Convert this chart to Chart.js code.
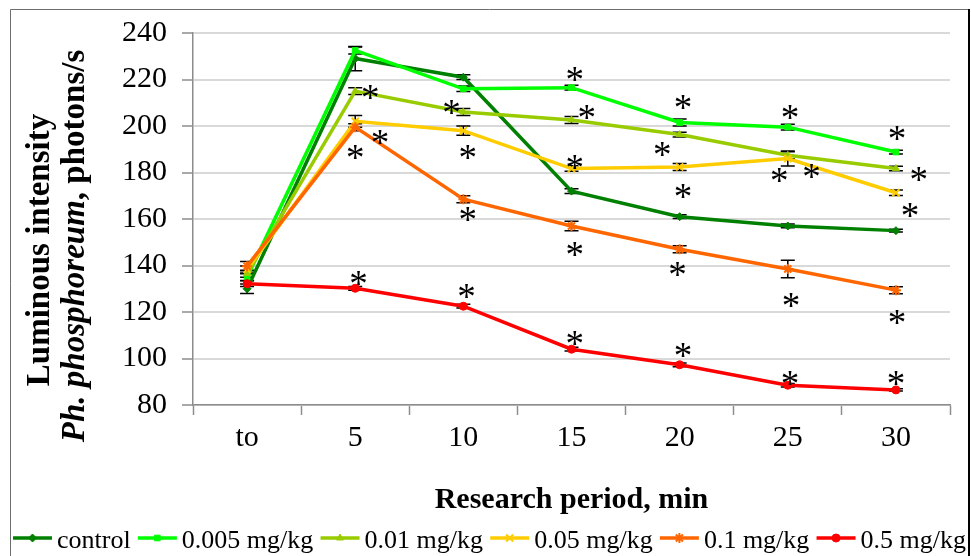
<!DOCTYPE html>
<html><head><meta charset="utf-8">
<script src="https://cdn.jsdelivr.net/npm/chart.js@4.4.1/dist/chart.umd.min.js"></script>
<style>html,body{margin:0;padding:0;background:#fff}#wrap{width:971px;height:556px;position:relative}</style>
</head><body><div id="wrap"><canvas id="c" width="971" height="556"></canvas></div>
<script>
// ---- data ----
const categories = ['to', '5', '10', '15', '20', '25', '30'];
const seriesNames = ['control', '0.005 mg/kg', '0.01 mg/kg', '0.05 mg/kg', '0.1 mg/kg', '0.5 mg/kg'];
const control   = [130.0, 229.0, 221.0, 172.0, 161.0, 157.0, 155.0];
const mg0005    = [135.0, 232.5, 216.0, 216.5, 201.5, 199.5, 188.8];
const mg001     = [136.5, 215.0, 206.0, 202.6, 196.3, 187.4, 181.7];
const mg005     = [138.3, 202.0, 198.0, 181.7, 182.4, 186.0, 171.3];
const mg01      = [139.7, 199.5, 168.5, 157.0, 147.0, 138.5, 129.4];
const mg05      = [132.2, 130.2, 122.5, 104.0, 97.3, 88.5, 86.5];
const controlErr = [2.0, 5.2, 1.0, 1.0, 0.8, 0.8, 0.6];
const mg0005Err  = [1.5, 1.5, 1.2, 1.0, 1.5, 1.2, 0.8];
const mg001Err   = [1.5, 1.5, 1.5, 1.5, 1.0, 1.5, 1.0];
const mg005Err   = [1.5, 2.5, 2.0, 1.2, 1.5, 3.2, 1.2];
const mg01Err    = [2.0, 1.5, 1.5, 2.0, 1.5, 3.8, 1.5];
const mg05Err    = [1.2, 0.8, 0.8, 0.8, 0.8, 0.8, 0.5];
// significance marks (category position, value)
const starCat = [1.14, 1.23, 1.00, 1.03, 1.89, 2.04, 2.04, 2.03, 3.03, 3.14, 3.03, 3.03, 3.03, 4.03, 3.84, 4.03, 3.98, 4.03, 5.02, 4.92, 5.22, 5.03, 5.02, 6.01, 6.21, 6.13, 6.01, 6.00];
const starVal = [214.4, 195.2, 188.8, 134.2, 208.0, 188.8, 161.9, 129.0, 222.0, 205.9, 184.5, 147.0, 108.5, 210.0, 190.0, 171.7, 138.4, 103.5, 205.9, 178.5, 180.3, 124.8, 91.5, 196.9, 179.0, 163.6, 117.5, 91.5];
const yTicksMin = 80, yTicksMax = 240, yStep = 20;

// ---- styles ----
const SERIF = '"Liberation Serif", "Times New Roman", serif';
const colors = ['#008000', '#00ff00', '#99cc00', '#ffcc00', '#ff6600', '#ff0000'];
const pStyles = ['rectRot', 'rect', 'triangle', 'crossRot', 'star', 'circle'];
const values = [control, mg0005, mg001, mg005, mg01, mg05];
const errors = [controlErr, mg0005Err, mg001Err, mg005Err, mg01Err, mg05Err];

const datasets = values.map((v, i) => ({
  label: seriesNames[i],
  data: v,
  borderColor: colors[i],
  backgroundColor: colors[i],
  borderWidth: 3.5,
  pointStyle: pStyles[i],
  pointRadius: (pStyles[i] === 'crossRot' || pStyles[i] === 'star') ? 5 : 4,
  pointBorderWidth: (pStyles[i] === 'crossRot' || pStyles[i] === 'star') ? 2 : 1,
  pointBorderColor: colors[i],
  pointBackgroundColor: colors[i],
  tension: 0,
  order: 6 - i,
  errs: errors[i]
}));

const decor = {
  id: 'decor',
  beforeDatasetsDraw(chart) {
    const ctx = chart.ctx, xs = chart.scales.x, ys = chart.scales.y;
    ctx.save();
    ctx.strokeStyle = '#000';
    ctx.lineWidth = 1.5;
    chart.data.datasets.forEach(ds => {
      ds.data.forEach((v, j) => {
        const e = ds.errs[j];
        const x = xs.getPixelForValue(j);
        const y1 = ys.getPixelForValue(v + e), y2 = ys.getPixelForValue(v - e);
        ctx.beginPath();
        ctx.moveTo(x, y1); ctx.lineTo(x, y2);
        ctx.moveTo(x - 7, y1); ctx.lineTo(x + 7, y1);
        ctx.moveTo(x - 7, y2); ctx.lineTo(x + 7, y2);
        ctx.stroke();
      });
    });
    ctx.restore();
  },
  afterDraw(chart) {
    const ctx = chart.ctx, xs = chart.scales.x, ys = chart.scales.y, ca = chart.chartArea;
    ctx.save();
    // asterisks
    ctx.fillStyle = '#000';
    ctx.font = '37px ' + SERIF;
    ctx.textAlign = 'center';
    ctx.textBaseline = 'alphabetic';
    const m = ctx.measureText('*');
    const off = (m.actualBoundingBoxAscent - m.actualBoundingBoxDescent) / 2;
    starCat.forEach((c, k) => {
      ctx.fillText('*', xs.getPixelForValue(c), ys.getPixelForValue(starVal[k]) + off);
    });
    // x title
    ctx.font = 'bold 30px ' + SERIF;
    ctx.fillText('Research period, min', (ca.left + ca.right) / 2, 508);
    // y title
    ctx.save();
    ctx.translate(49, 250);
    ctx.rotate(-Math.PI / 2);
    ctx.font = 'bold 33px ' + SERIF;
    ctx.textAlign = 'center';
    ctx.fillText('Luminous intensity', 0, 0);
    ctx.restore();
    ctx.save();
    ctx.translate(84, 246);
    ctx.rotate(-Math.PI / 2);
    ctx.textAlign = 'left';
    const f1 = 'italic bold 33px ' + SERIF, f2 = 'bold 33px ' + SERIF;
    const s1 = 'Ph. phosphoreum', s2 = ', photons/s';
    ctx.font = f1; const w1 = ctx.measureText(s1).width;
    ctx.font = f2; const w2 = ctx.measureText(s2).width;
    let x0 = -(w1 + w2) / 2;
    ctx.font = f1; ctx.fillText(s1, x0, 0);
    ctx.font = f2; ctx.fillText(s2, x0 + w1, 0);
    ctx.restore();
    // legend
    ctx.font = '26px ' + SERIF;
    ctx.textAlign = 'left';
    const lineW = 39, gapT = 5;
    const tw = seriesNames.map(s => ctx.measureText(s).width);
    const used = tw.reduce((a, b) => a + b, 0) + seriesNames.length * (lineW + gapT);
    const startX = 13, endX = 966;
    const gap = (endX - startX - used) / (seriesNames.length - 1);
    let lx = startX;
    const ly = 538;
    seriesNames.forEach((s, i) => {
      ctx.strokeStyle = colors[i];
      ctx.lineWidth = 3.5;
      ctx.beginPath(); ctx.moveTo(lx, ly); ctx.lineTo(lx + lineW, ly); ctx.stroke();
      ctx.fillStyle = colors[i];
      ctx.strokeStyle = colors[i];
      ctx.lineWidth = datasets[i].pointBorderWidth;
      Chart.helpers.drawPoint(ctx, {pointStyle: pStyles[i], radius: datasets[i].pointRadius, borderWidth: datasets[i].pointBorderWidth, rotation: 0}, lx + lineW / 2, ly);
      ctx.fillStyle = '#000';
      ctx.fillText(s, lx + lineW + gapT, 548);
      lx += lineW + gapT + tw[i] + gap;
    });
    // frame
    ctx.strokeStyle = '#6e6e6e';
    ctx.lineWidth = 1;
    ctx.beginPath();
    ctx.moveTo(10.5, 560); ctx.lineTo(10.5, 9.5); ctx.lineTo(968.5, 9.5);
    ctx.stroke();
    ctx.strokeStyle = '#000';
    ctx.lineWidth = 2;
    ctx.beginPath(); ctx.moveTo(969, 9); ctx.lineTo(969, 560); ctx.stroke();
    ctx.restore();
  }
};

new Chart(document.getElementById('c'), {
  type: 'line',
  data: { labels: categories, datasets },
  options: {
    responsive: false,
    devicePixelRatio: 1,
    animation: false,
    layout: { padding: { left: 100, right: 21, top: 31, bottom: 0 } },
    plugins: { legend: { display: false }, tooltip: { enabled: false }, title: { display: false } },
    scales: {
      x: {
        type: 'category',
        offset: true,
        grid: { display: true, drawOnChartArea: false, offset: true, tickLength: 10, tickColor: '#8c8c8c', tickWidth: 1.5 },
        border: { color: '#8c8c8c', width: 1.5 },
        ticks: { color: '#000', font: { family: SERIF, size: 30 }, padding: 5, maxRotation: 0 },
        afterFit(s) { s.height = 151; }
      },
      y: {
        min: yTicksMin, max: yTicksMax,
        grid: { color: '#d9d9d9', lineWidth: 2, tickLength: 11, tickColor: '#8c8c8c', tickWidth: 1.5 },
        border: { color: '#8c8c8c', width: 1.5 },
        ticks: { stepSize: yStep, color: '#000', font: { family: SERIF, size: 30 }, padding: 15 },
        afterFit(s) { s.width = 93; }
      }
    }
  },
  plugins: [decor]
});
</script>
</body></html>
